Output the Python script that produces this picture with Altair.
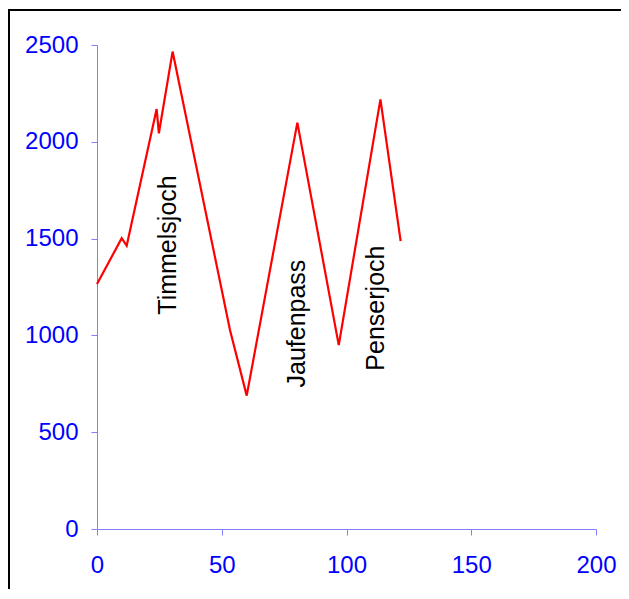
import altair as alt
import pandas as pd

# Route profile: distance (km) vs altitude (m)
km = [0, 9.9, 11.9, 23.9, 24.8, 30.3, 53.3, 60.0, 80.3, 96.9, 113.6, 121.7]
altitude = [1265, 1502, 1463, 2169, 2044, 2466, 1028, 689, 2099, 950, 2219, 1487]

pass_names = ["Timmelsjoch", "Jaufenpass", "Penserjoch"]
pass_x = [28.6, 80.0, 111.8]
pass_y = [1467, 1061, 1141]

x_ticks = [0, 50, 100, 150, 200]
y_ticks = [0, 500, 1000, 1500, 2000, 2500]

profile = pd.DataFrame({"km": km, "alt": altitude})
labels = pd.DataFrame({"name": pass_names, "km": pass_x, "alt": pass_y})

axis_common = dict(
    domainColor="#7f7fff",
    tickColor="#7f7fff",
    labelColor="#0000ff",
    labelFont="Liberation Sans",
    labelFontSize=24,
    tickSize=6,
    grid=False,
    title=None,
    domainWidth=1,
    tickWidth=1,
    format="d",
    labelFlush=False,
    labelOverlap=False,
)

x_enc = alt.X("km:Q", scale=alt.Scale(domain=[0, 200], nice=False),
              axis=alt.Axis(values=x_ticks, labelPadding=18, **axis_common))
y_enc = alt.Y("alt:Q", scale=alt.Scale(domain=[0, 2500], nice=False),
              axis=alt.Axis(values=y_ticks, labelPadding=13, **axis_common))

line = alt.Chart(profile).mark_line(color="#ff0000", strokeWidth=2.2).encode(
    x=x_enc, y=y_enc, order="km:Q"
)

text = alt.Chart(labels).mark_text(
    angle=270, fontSize=25, font="Liberation Sans", color="#000000",
    align="center", baseline="middle"
).encode(x="km:Q", y="alt:Q", text="name:N")

one = pd.DataFrame({"a": [0]})
left_edge = alt.Chart(one).mark_rect(color="#000000", strokeWidth=0).encode(
    x=alt.value(-89), x2=alt.value(-87), y=alt.value(-36), y2=alt.value(544)
)
top_edge = alt.Chart(one).mark_rect(color="#000000", strokeWidth=0).encode(
    x=alt.value(-89), x2=alt.value(524), y=alt.value(-36), y2=alt.value(-34)
)

chart = alt.layer(left_edge, top_edge, line, text).properties(
    width=499, height=484,
    autosize=alt.AutoSizeParams(type="none"),
    padding={"left": 89, "top": 37, "right": 25, "bottom": 60},
).configure_view(stroke=None)

chart.save("out.html", embed_options={"renderer": "svg", "actions": False})
